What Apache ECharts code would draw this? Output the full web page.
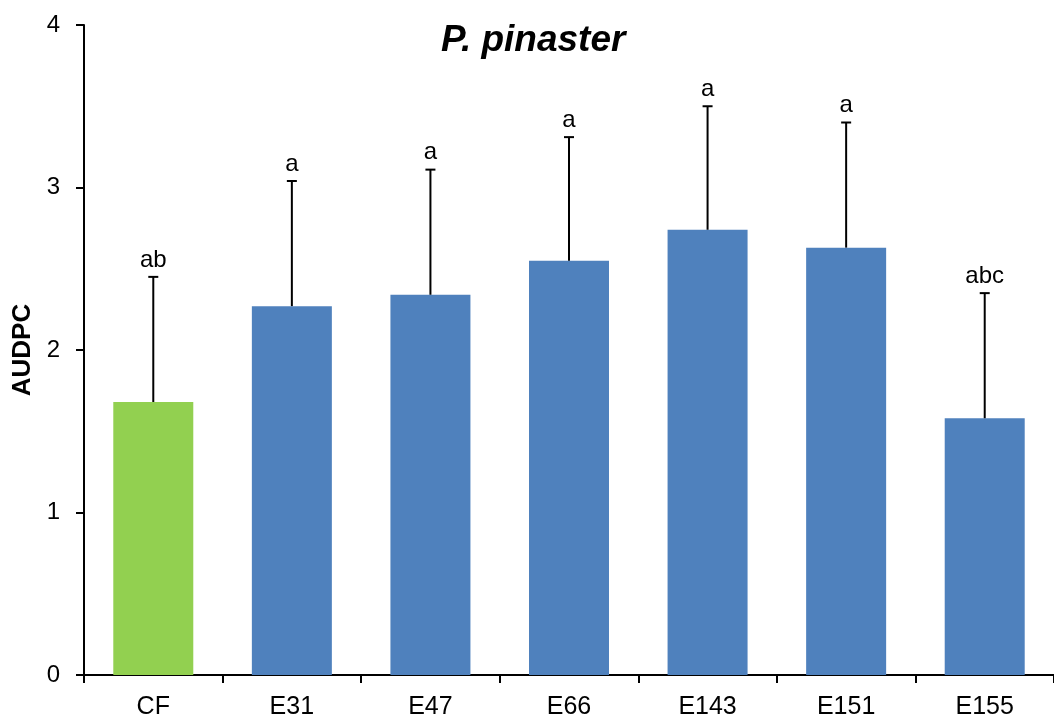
<!DOCTYPE html>
<html>
<head>
<meta charset="utf-8">
<script src="https://cdn.jsdelivr.net/npm/echarts@6/dist/echarts.min.js"></script>
<style>
html,body{margin:0;padding:0;background:#fff;}
#chart{width:1054px;height:720px;}
</style>
</head>
<body>
<div id="chart"></div>
<script>
const categories = ['CF', 'E31', 'E47', 'E66', 'E143', 'E151', 'E155'];
const means = [1.68, 2.27, 2.34, 2.55, 2.74, 2.63, 1.58];
const errors = [0.77, 0.77, 0.77, 0.76, 0.76, 0.77, 0.77];
const letters = ['ab', 'a', 'a', 'a', 'a', 'a', 'abc'];
const yTicks = [0, 1, 2, 3, 4];

const FONT = '"Liberation Sans", Arial, sans-serif';
const chart = echarts.init(document.getElementById('chart'));

const errData = categories.map((c, i) => [i, means[i], means[i] + errors[i]]);

chart.setOption({
  animation: false,
  backgroundColor: '#fff',
  title: {
    text: 'P. pinaster',
    left: 441,
    top: 22,
    padding: 0,
    textStyle: { fontFamily: FONT, fontSize: 37, fontWeight: 'bold', fontStyle: 'italic', color: '#000' }
  },
  grid: { left: 84, right: -8, top: 25, bottom: 44, containLabel: false },
  xAxis: {
    type: 'category',
    data: categories,
    axisLine: { lineStyle: { color: '#000', width: 2 } },
    axisTick: { show: true, length: 8, lineStyle: { color: '#000', width: 2 } },
    axisLabel: { fontFamily: FONT, fontSize: 25, color: '#000', margin: 20 }
  },
  yAxis: {
    type: 'value',
    min: yTicks[0],
    max: yTicks[yTicks.length - 1],
    interval: 1,
    name: 'AUDPC',
    nameLocation: 'middle',
    nameGap: 48,
    nameTextStyle: { fontFamily: FONT, fontSize: 26, fontWeight: 'bold', color: '#000' },
    axisLine: { show: true, lineStyle: { color: '#000', width: 2 } },
    axisTick: { show: true, length: 8, lineStyle: { color: '#000', width: 2 } },
    axisLabel: { fontFamily: FONT, fontSize: 24, color: '#000', margin: 24 },
    splitLine: { show: false }
  },
  series: [
    {
      type: 'bar',
      data: means,
      barWidth: 80,
      itemStyle: {
        color: p => p.dataIndex === 0 ? '#92D050' : '#4F81BD'
      },
      z: 2
    },
    {
      type: 'custom',
      data: errData,
      encode: { x: 0, y: [1, 2] },
      z: 3,
      renderItem: function (params, api) {
        const i = api.value(0);
        const base = api.coord([i, api.value(1)]);
        const top = api.coord([i, api.value(2)]);
        const hw = 5;
        return {
          type: 'group',
          children: [
            { type: 'line', shape: { x1: top[0], y1: base[1], x2: top[0], y2: top[1] }, style: { stroke: '#000', lineWidth: 2 } },
            { type: 'line', shape: { x1: top[0] - hw, y1: top[1], x2: top[0] + hw, y2: top[1] }, style: { stroke: '#000', lineWidth: 2 } },
            { type: 'text', style: { text: letters[params.dataIndex], x: top[0], y: top[1] - 5, align: 'center', verticalAlign: 'bottom', fontFamily: FONT, fontSize: 24, fill: '#000' } }
          ]
        };
      }
    }
  ]
});
</script>
</body>
</html>
